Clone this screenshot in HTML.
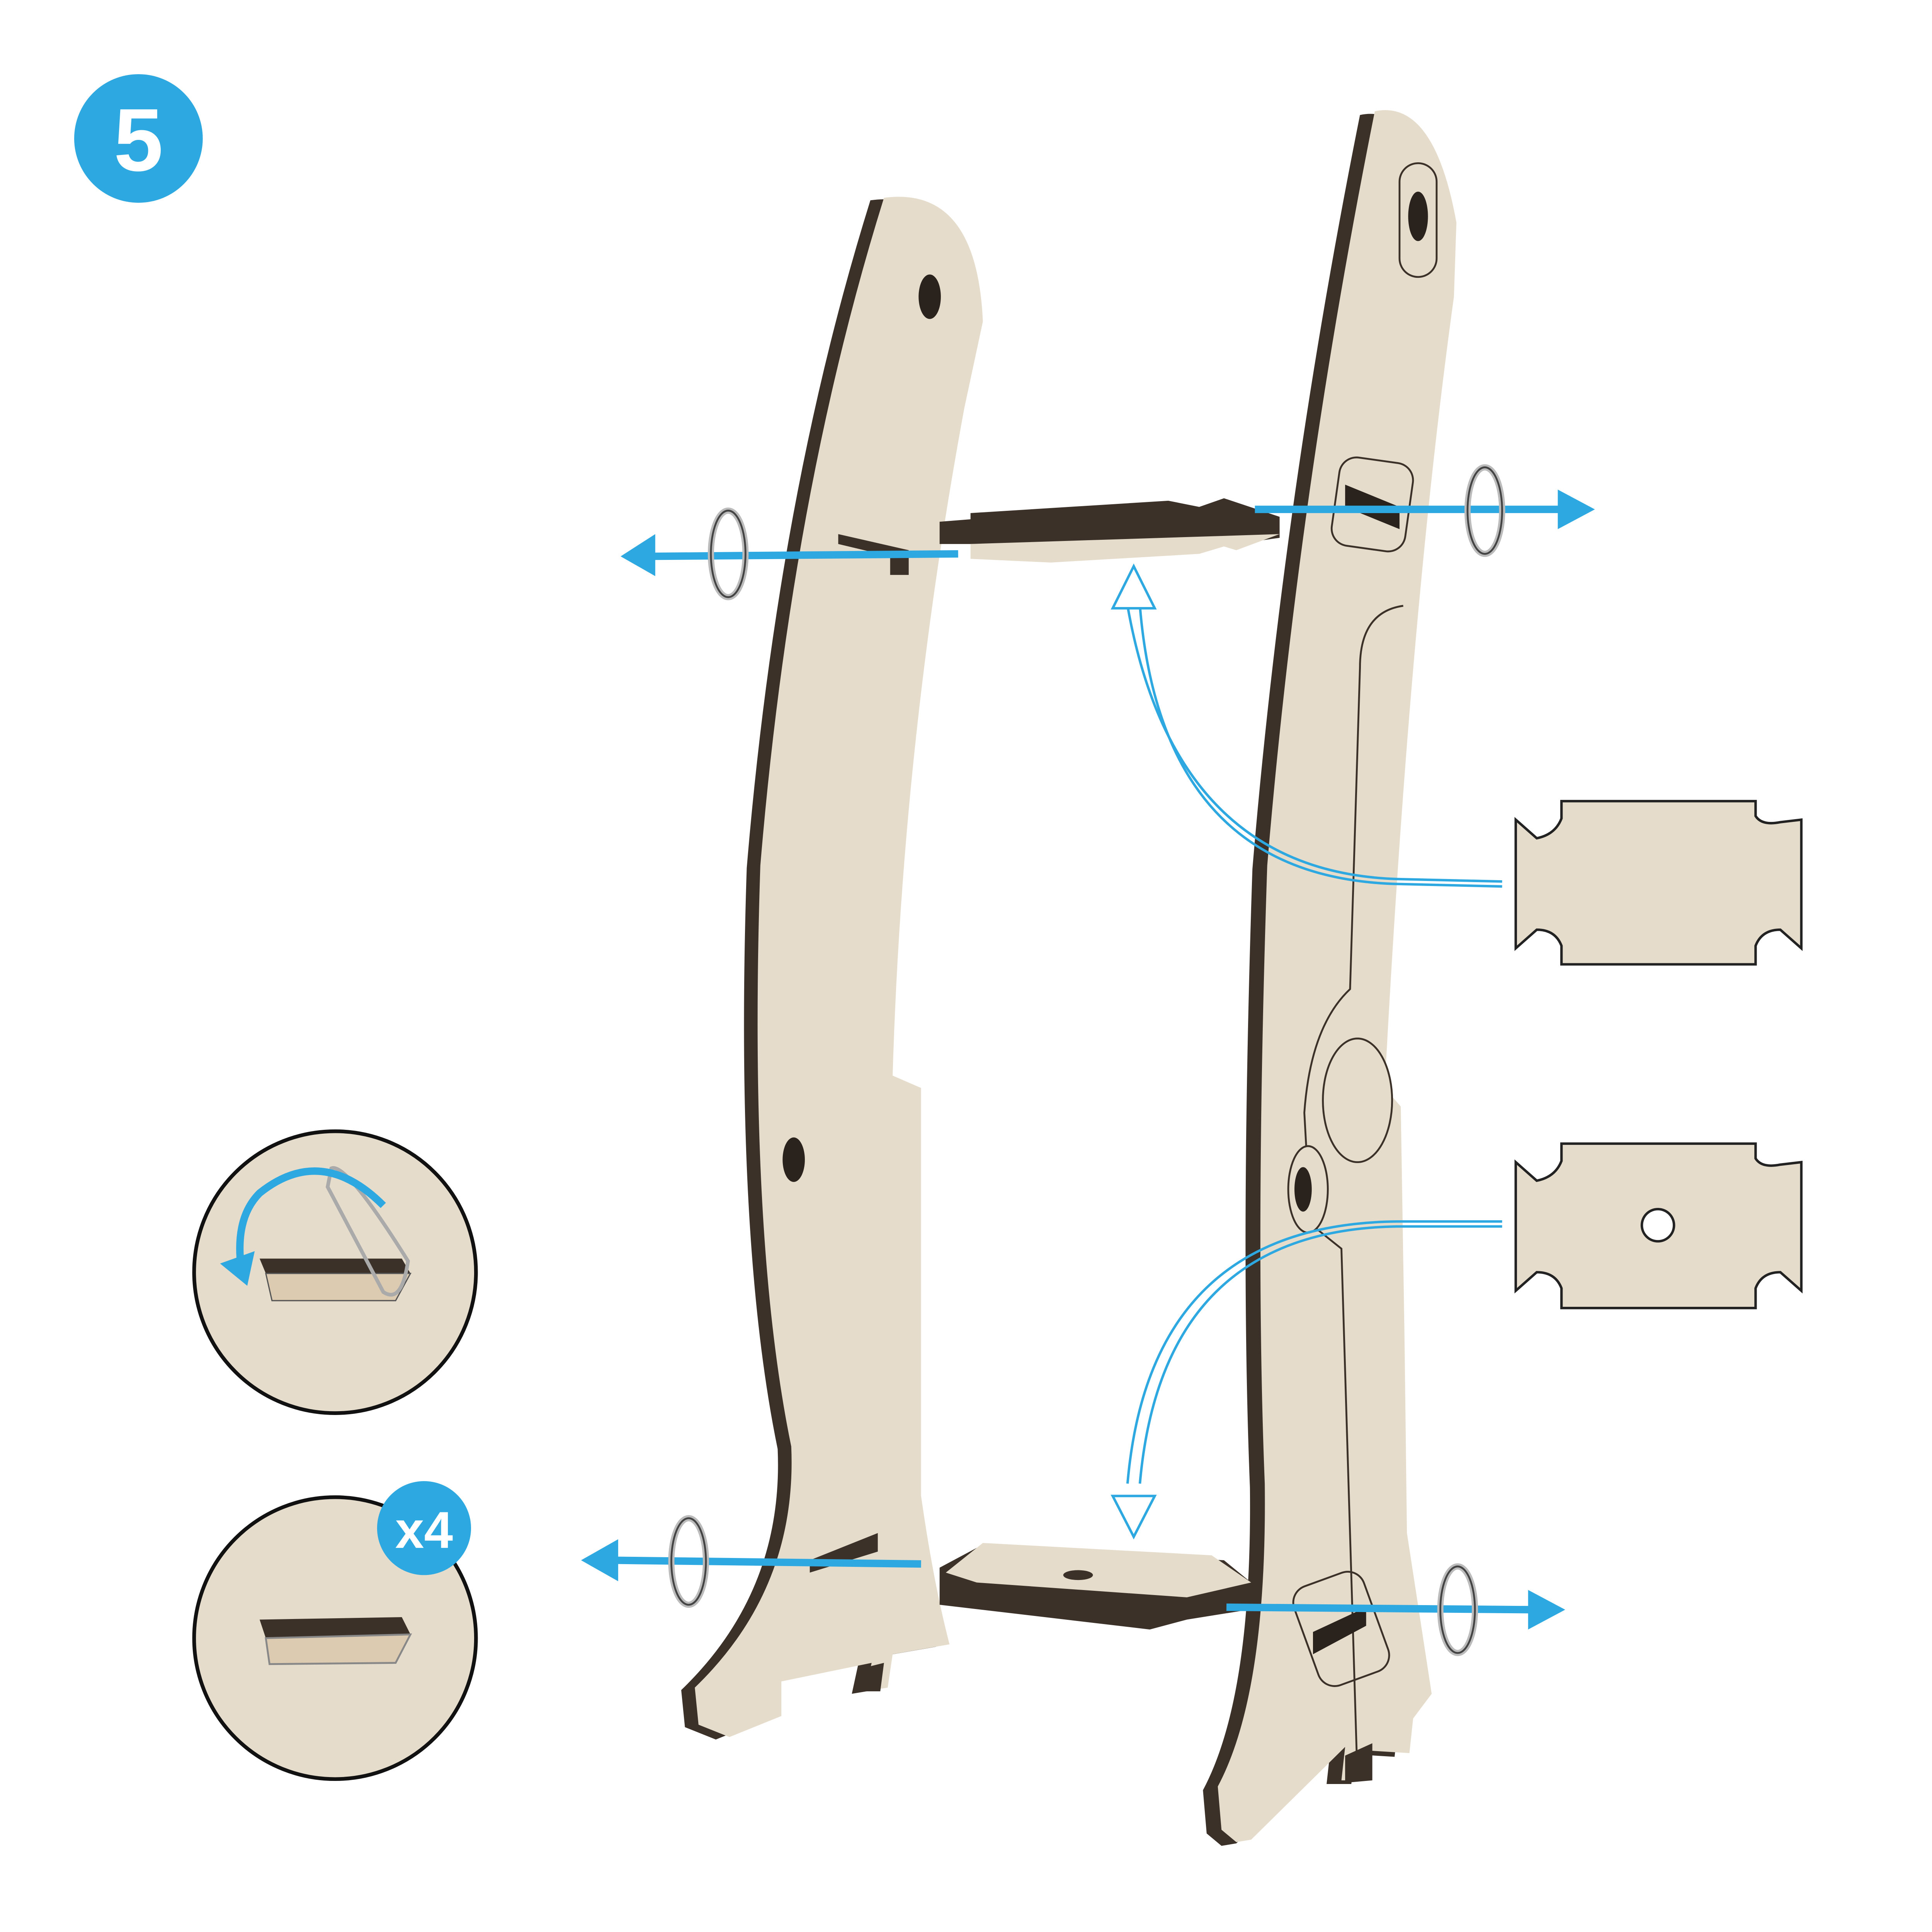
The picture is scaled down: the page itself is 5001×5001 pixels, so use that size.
<!DOCTYPE html>
<html><head><meta charset="utf-8"><style>
html,body{margin:0;padding:0;background:#fff;width:5001px;height:5001px;overflow:hidden}
svg{display:block}
</style></head><body>
<svg width="5001" height="5001" viewBox="0 0 1563 1563" xmlns="http://www.w3.org/2000/svg">
<defs>
<path id="lu" d="M715,160 Q790,150 795,260 L780,330 Q730,600 722,870 L745,880 L745,1210 Q755,1280 768,1330 L722,1338 L718,1365 L700,1368 L705,1345 L632,1360 L632,1388 L590,1405 L565,1395 L562,1365 Q645,1285 640,1170 Q605,1000 615,700 Q640,400 715,160 Z"/>
<path id="ru" d="M1112,90 Q1160,80 1178,180 L1176,240 Q1140,500 1120,880 L1133,895 L1136,1080 L1138,1240 L1158,1370 L1143,1390 L1140,1418 L1108,1416 L1105,1440 L1085,1440 L1088,1413 L1012,1488 L1000,1490 L988,1480 L985,1445 Q1025,1370 1023,1200 Q1015,1000 1025,700 Q1050,400 1112,90 Z"/>
</defs>
<rect width="1563" height="1563" fill="#fff"/>
<circle cx="112" cy="112" r="52" fill="#2ea8e0"/>
<text x="112" y="138" font-family="Liberation Sans, sans-serif" font-size="72" font-weight="bold" fill="#fff" text-anchor="middle">5</text>

<!-- LEFT UPRIGHT -->
<use href="#lu" fill="#3b3128" transform="translate(-11,2)"/>
<use href="#lu" fill="#e6dccb"/>
<ellipse cx="752" cy="240" rx="9" ry="18" fill="#2a231d"/>
<ellipse cx="642" cy="938" rx="9" ry="18" fill="#2a231d"/>
<polygon points="678,432 735,445 735,465 720,465 720,450 678,440" fill="#3b3128"/>
<polygon points="655,1262 710,1240 710,1255 655,1272" fill="#3b3128"/>
<polygon points="695,1350 715,1345 712,1368 697,1368" fill="#3b3128"/>

<!-- RIGHT UPRIGHT -->
<use href="#ru" fill="#3b3128" transform="translate(-12,3)"/>
<use href="#ru" fill="#e6dccb"/>
<rect x="1132" y="132" width="30" height="92" rx="15" fill="none" stroke="#3b3128" stroke-width="1.5"/>
<ellipse cx="1147" cy="175" rx="8" ry="20" fill="#2a231d"/>
<rect x="1080" y="372" width="60" height="72" rx="14" fill="none" stroke="#3b3128" stroke-width="1.5" transform="rotate(8 1110 408)"/>
<polygon points="1088,392 1132,410 1132,428 1088,410" fill="#2a231d"/>
<path d="M1135,490 Q1100,495 1100,540 L1092,800 Q1060,830 1055,900 L1060,990 L1085,1010 L1098,1440" fill="none" stroke="#3b3128" stroke-width="1.5"/>
<ellipse cx="1098" cy="890" rx="28" ry="50" fill="#e6dccb" stroke="#3b3128" stroke-width="1.5"/>
<ellipse cx="1058" cy="962" rx="16" ry="35" fill="#e6dccb" stroke="#3b3128" stroke-width="1.5"/>
<ellipse cx="1054" cy="962" rx="7" ry="18" fill="#2a231d"/>
<rect x="1055" y="1275" width="60" height="85" rx="14" fill="none" stroke="#3b3128" stroke-width="1.5" transform="rotate(-20 1085 1318)"/>
<polygon points="1062,1320 1105,1300 1105,1315 1062,1338" fill="#2a231d"/>
<polygon points="1088,1420 1110,1410 1110,1440 1088,1442" fill="#3b3128"/>

<!-- TOP SHELF -->
<polygon points="760,422 785,420 785,415 945,405 970,410 990,403 1035,418 1035,435 1000,440 785,440 760,440" fill="#3b3128"/>
<polygon points="785,440 1035,432 1000,445 990,442 970,448 850,455 785,452" fill="#e6dccb"/>
<!-- BOTTOM SHELF -->
<polygon points="760,1268 790,1252 990,1262 1012,1280 1010,1302 960,1310 930,1318 760,1298" fill="#3b3128"/>
<polygon points="765,1272 795,1248 980,1258 1012,1280 960,1292 790,1280" fill="#e6dccb"/>
<ellipse cx="872" cy="1274" rx="12" ry="4" fill="#3b3128"/>

<!-- BLUE ARROWS & RINGS -->
<g stroke="#2ea8e0" stroke-width="6" fill="none">
<line x1="775" y1="448" x2="525" y2="450"/>
<line x1="1015" y1="412" x2="1265" y2="412"/>
<line x1="745" y1="1265" x2="495" y2="1262"/>
<line x1="992" y1="1300" x2="1240" y2="1302"/>
</g>
<g fill="#2ea8e0">
<polygon points="502,450 530,432 530,466"/>
<polygon points="1290,412 1260,396 1260,428"/>
<polygon points="470,1262 500,1245 500,1279"/>
<polygon points="1266,1302 1236,1286 1236,1318"/>
</g>
<g fill="none">
<ellipse cx="589" cy="448" rx="14" ry="35" stroke="#bbb" stroke-width="5"/>
<ellipse cx="589" cy="448" rx="14" ry="35" stroke="#444" stroke-width="1.5"/>
<ellipse cx="1201" cy="413" rx="14" ry="35" stroke="#bbb" stroke-width="5"/>
<ellipse cx="1201" cy="413" rx="14" ry="35" stroke="#444" stroke-width="1.5"/>
<ellipse cx="557" cy="1263" rx="14" ry="35" stroke="#bbb" stroke-width="5"/>
<ellipse cx="557" cy="1263" rx="14" ry="35" stroke="#444" stroke-width="1.5"/>
<ellipse cx="1179" cy="1302" rx="14" ry="35" stroke="#bbb" stroke-width="5"/>
<ellipse cx="1179" cy="1302" rx="14" ry="35" stroke="#444" stroke-width="1.5"/>
</g>

<g fill="none" stroke="#2ea8e0" stroke-width="2">
<path d="M1215,713 L1130,711 Q950,705 912,490"/>
<path d="M1215,717 L1130,715 Q940,710 922,490"/>
<path d="M1215,988 L1130,988 Q930,990 912,1200"/>
<path d="M1215,992 L1130,992 Q940,995 922,1200"/>
<path d="M900,492 L917,458 L934,492 Z" fill="#fff"/>
<path d="M900,1210 L917,1243 L934,1210 Z" fill="#fff"/>
</g>

<g fill="#e6dccb" stroke="#222" stroke-width="2">
<path d="M1263,648 L1420,648 L1420,660 Q1425,668 1440,665 L1457,663 L1457,767 L1440,752 Q1425,752 1420,765 L1420,780 L1263,780 L1263,765 Q1258,752 1243,752 L1226,767 L1226,663 L1243,678 Q1258,675 1263,662 Z"/>
<path d="M1263,925 L1420,925 L1420,937 Q1425,945 1440,942 L1457,940 L1457,1044 L1440,1029 Q1425,1029 1420,1042 L1420,1058 L1263,1058 L1263,1042 Q1258,1029 1243,1029 L1226,1044 L1226,940 L1243,955 Q1258,952 1263,939 Z"/>
<circle cx="1341" cy="991" r="13" fill="#fff"/>
</g>

<circle cx="271" cy="1029" r="114" fill="#e6dccb" stroke="#111" stroke-width="3"/>
<polygon points="210,1018 325,1018 332,1030 215,1030" fill="#3b3128"/>
<polygon points="215,1030 332,1030 320,1052 220,1052" fill="#dccbb0" stroke="#555" stroke-width="1"/>
<path d="M268,945 Q280,940 330,1020 Q325,1055 310,1045 L265,960 Z" fill="none" stroke="#aaa" stroke-width="3"/>
<path d="M310,975 Q260,925 210,965 Q190,985 195,1025" fill="none" stroke="#2ea8e0" stroke-width="6"/>
<polygon points="178,1022 200,1040 206,1012" fill="#2ea8e0"/>

<circle cx="271" cy="1325" r="114" fill="#e6dccb" stroke="#111" stroke-width="3"/>
<polygon points="210,1310 325,1308 332,1322 215,1325" fill="#3b3128"/>
<polygon points="215,1325 332,1322 320,1345 218,1346" fill="#dccbb0" stroke="#888" stroke-width="1.5"/>
<circle cx="343" cy="1236" r="38" fill="#2ea8e0"/>
<text x="343" y="1252" font-family="Liberation Sans, sans-serif" font-size="42" font-weight="bold" fill="#fff" text-anchor="middle">x4</text>
</svg>
</body></html>
